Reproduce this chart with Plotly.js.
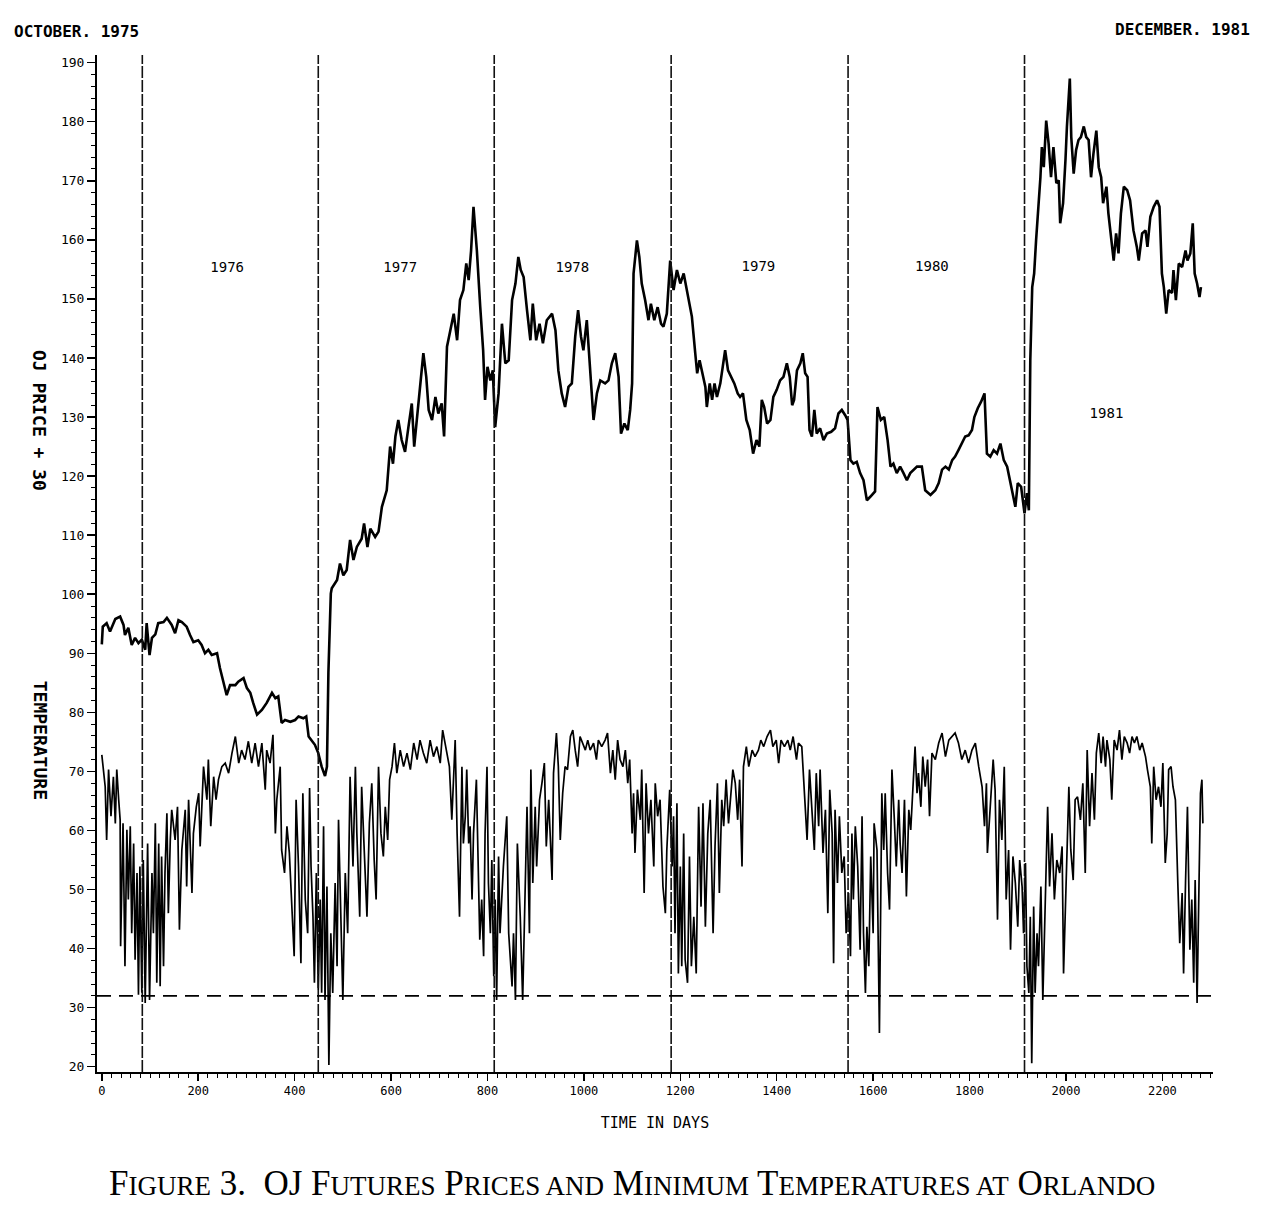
<!DOCTYPE html>
<html><head><meta charset="utf-8">
<script src="https://cdn.plot.ly/plotly-3.0.1.min.js"></script>
<style>html,body{margin:0;padding:0;background:#fff;} #chart{width:1282px;height:1212px;}</style>
</head><body><div id="chart"></div>
<script>
// ---- Data ----
const priceDays = [0,2,10,17,28,38,45,48,55,62,69,76,83,90,93,99,104,111,117,128,135,145,152,159,166,176,183,190,200,207,214,221,228,239,245,252,259,266,277,283,294,301,308,314,322,332,342,353,360,366,373,380,391,401,408,418,424,429,436,442,449,456,463,467,470,475,477,488,494,501,508,515,522,529,539,544,551,557,567,574,581,591,598,604,609,615,622,629,636,643,648,654,660,667,673,678,685,692,698,705,710,716,723,730,737,743,750,756,761,766,771,778,785,791,795,800,806,811,816,823,830,837,844,851,858,864,869,875,882,889,894,901,908,915,923,934,941,947,954,961,968,975,982,988,994,999,1006,1013,1020,1027,1034,1044,1051,1058,1065,1072,1077,1084,1091,1096,1100,1103,1110,1115,1120,1127,1134,1139,1146,1153,1160,1165,1172,1179,1186,1193,1200,1207,1214,1221,1224,1231,1235,1240,1245,1252,1255,1261,1266,1271,1276,1283,1288,1293,1299,1305,1312,1319,1324,1330,1337,1344,1351,1358,1364,1369,1374,1380,1387,1393,1400,1407,1414,1421,1427,1432,1436,1442,1449,1454,1459,1464,1468,1473,1478,1483,1490,1497,1504,1513,1521,1528,1535,1542,1547,1553,1559,1566,1573,1580,1587,1594,1604,1609,1616,1623,1630,1636,1642,1649,1656,1663,1670,1677,1684,1691,1701,1708,1719,1729,1736,1743,1750,1757,1764,1770,1777,1784,1791,1798,1805,1810,1817,1824,1831,1836,1843,1850,1857,1864,1871,1878,1885,1891,1895,1900,1907,1914,1919,1923,1926,1930,1934,1938,1943,1947,1950,1954,1959,1964,1969,1974,1980,1985,1988,1994,1999,2002,2008,2011,2016,2021,2026,2031,2037,2042,2047,2052,2057,2063,2068,2073,2077,2084,2088,2092,2099,2104,2109,2114,2120,2127,2133,2140,2147,2151,2158,2165,2169,2175,2182,2189,2194,2199,2203,2208,2213,2220,2223,2228,2234,2241,2248,2252,2258,2263,2267,2272,2277,2280];
const priceValues = [91.5,94.5,95.1,93.7,95.8,96.2,94.8,93.1,94.3,91.4,92.6,91.7,92.3,90.6,95.1,89.7,92.6,93.2,95.1,95.3,96.0,94.8,93.4,95.6,95.3,94.5,93.1,91.9,92.2,91.4,90.0,90.6,89.7,90.0,87.5,85.2,82.9,84.6,84.6,85.2,85.8,84.1,83.3,81.6,79.6,80.4,81.6,83.3,82.4,82.7,78.2,78.7,78.4,78.7,79.3,79.0,79.3,75.9,75.1,74.5,73.1,70.8,69.2,70.8,86.7,100.1,101.0,102.4,105.2,103.2,104.1,109.2,105.8,108.0,109.4,112.0,108.0,111.1,109.7,110.6,114.8,117.6,125.0,122.1,126.7,129.5,126.1,124.1,128.3,132.3,125.0,130.0,135.7,140.8,136.8,131.2,129.5,133.4,130.6,132.3,126.7,141.9,144.7,147.5,143.0,149.8,151.5,156.0,153.2,158.2,165.6,158.2,148.6,141.3,132.9,138.5,136.2,137.9,128.3,134.0,145.8,139.1,139.6,149.8,152.6,157.1,154.9,153.7,148.1,143.0,149.2,143.0,145.8,142.5,146.4,147.5,144.7,137.9,134.0,131.7,135.1,135.7,143.6,148.1,143.6,141.3,146.4,138.5,129.5,134.0,136.2,135.7,136.2,139.1,140.8,136.8,127.2,128.9,127.8,131.2,135.7,154.3,159.9,157.1,152.6,149.8,146.4,149.2,146.4,148.6,145.8,145.3,147.5,156.5,151.5,154.9,152.6,154.3,151.0,148.1,147.0,140.8,137.4,139.6,137.9,135.1,131.7,135.7,132.9,135.7,133.4,135.7,138.5,141.3,137.9,136.8,135.7,134.0,133.4,134.0,129.5,127.8,123.8,126.1,125.0,132.9,131.7,128.9,129.5,133.4,134.6,136.2,136.8,139.1,136.8,132.0,132.9,137.9,139.1,140.8,137.4,136.8,127.8,126.7,131.2,127.2,128.1,126.1,127.2,127.5,128.1,130.6,131.2,130.3,129.5,122.7,122.1,122.4,120.5,119.3,115.9,116.5,117.4,131.7,129.5,130.0,126.1,121.6,122.1,120.5,121.6,120.5,119.3,120.5,121.1,121.6,121.6,117.6,116.8,117.6,118.8,121.1,121.6,121.1,122.7,123.3,124.4,125.5,126.7,126.9,127.8,130.0,131.5,132.6,134.0,123.8,123.3,124.4,123.8,125.5,122.7,121.6,118.8,116.5,114.8,118.8,118.2,113.7,117.1,114.2,139.6,152.0,154.3,159.9,165.0,170.6,175.7,172.3,180.2,176.3,170.6,175.7,169.6,170.1,162.8,166.2,173.6,179.2,187.3,177.4,171.2,175.2,176.9,177.4,179.2,177.4,176.9,170.6,174.6,178.5,172.3,170.6,166.2,169.0,164.5,161.6,156.5,161.1,157.7,164.5,169.0,168.4,166.7,161.6,158.8,156.5,161.1,161.6,158.8,163.9,165.6,166.7,165.6,154.3,152.0,147.5,151.5,151.0,154.9,149.8,156.0,155.4,158.2,156.5,157.7,162.8,154.3,152.6,150.3,152.0];

const tempDays = [0,7,10,14,19,24,28,31,35,38,39,44,48,52,55,59,62,66,69,73,76,79,83,86,90,95,99,104,107,111,114,118,121,124,128,131,135,138,142,145,152,157,161,166,173,176,180,187,190,196,201,204,211,218,221,226,232,237,242,249,256,263,270,277,284,290,297,304,311,318,325,332,339,342,349,355,360,363,370,373,379,384,389,394,399,403,408,413,417,422,427,431,434,438,441,445,449,453,456,460,463,467,471,475,479,484,488,491,496,500,505,510,515,521,526,529,535,539,544,550,555,560,565,569,574,579,584,588,593,597,602,607,612,619,626,633,640,647,654,660,667,674,681,688,695,702,707,714,721,726,730,733,737,740,742,747,750,754,757,761,764,768,771,777,780,784,788,792,795,799,802,806,809,813,816,819,823,826,833,840,844,
851,854,858,862,868,873,877,882,887,890,894,899,902,908,913,918,922,927,934,937,943,947,951,956,961,966,972,977,982,987,992,998,1003,1008,1013,1020,1026,1030,1037,1044,1049,1055,1060,1065,1070,1075,1081,1086,1091,1095,1100,1103,1106,1111,1117,1120,1125,1129,1134,1139,1145,1148,1153,1158,1164,1169,1172,1178,1183,1186,1189,1193,1196,1200,1203,1207,1210,1215,1219,1223,1228,1233,1238,1243,1247,1252,1257,1262,1268,1272,1277,1281,1286,1290,1295,1300,1304,1309,1314,1319,1323,1328,1331,1337,1342,1349,1355,1362,1367,1373,1380,1387,1392,1399,1404,1409,1416,1423,1428,1434,1441,1445,1452,1459,1463,1468,1473,1478,1482,1487,1490,1496,1501,1506,1510,1515,1518,1521,1526,1530,1535,1540,1544,1549,1553,
1556,1559,1563,1568,1573,1577,1580,1584,1587,1591,1595,1600,1602,1608,1613,1618,1622,1625,1630,1634,1639,1644,1648,1653,1656,1660,1665,1669,1674,1678,1684,1687,1691,1694,1699,1703,1708,1713,1717,1722,1729,1736,1743,1750,1757,1763,1770,1777,1784,1791,1798,1805,1812,1819,1826,1831,1835,1837,1843,1849,1853,1858,1862,1867,1872,1876,1881,1885,1890,1895,1900,1904,1909,1912,1916,1919,1923,1926,1929,1933,1936,1940,1943,1948,1952,1957,1962,1966,1971,1976,1981,1987,1992,1995,2001,2006,2010,2015,2019,2024,2030,2035,2040,2044,2049,2054,2059,2063,2068,2073,2077,2082,2085,2091,2095,2100,2106,2111,2116,2121,2127,2132,2137,2142,2147,2153,2158,2165,2169,2175,2178,2182,2187,2192,2197,2201,2206,2210,2213,2218,2222,2227,2232,2236,2241,2244,2248,2252,2257,2261,2265,2268,2272,2275,2279,2282,2284];
const tempValues = [72.8,67.4,58.4,70.3,62.4,69.1,61.2,70.3,65.2,61.8,40.4,61.2,37,60.1,48.3,60.7,42.6,57.8,38.1,52.8,32.2,53.9,32.5,55,30.8,57.8,31.3,52.8,42.6,61.2,34.2,57.8,33.6,55.6,37,52.8,62.9,46,58.4,63.5,58.4,64,43.2,56.7,63.5,50.5,65.2,49.4,59.5,64,66.3,57.3,70.8,65.2,72,60.7,69.1,65.2,68.6,70.8,71.4,69.7,73.1,75.9,71.4,73.6,72,75.1,71.4,74.8,70.8,74.8,66.9,73.6,71.4,76.2,59.5,65.2,70.8,56.7,52.8,60.7,56.2,48.3,38.7,65.2,53.9,37.5,66.3,48.3,42.6,67.2,53.9,45.4,34.2,52.8,33,48.3,32.5,60.7,31.3,50.5,20.3,42.6,32.5,51.1,37,61.8,47.1,31.3,52.8,42.6,69.1,53.9,70.8,59.5,45.4,67.4,57.3,45.4,61.2,68,55,48.3,70.8,59.5,55.6,64,58.4,68.6,70.8,74.8,69.7,73.6,70.8,73.1,70.3,74.8,72,75.3,73.1,71.4,75.3,72.5,74.2,71.4,77,73.6,70.8,61.8,70.8,75.3,59.5,49.4,45.4,70.8,57.8,62.4,70.3,57.8,60.7,48.3,59.5,68.6,55,41.5,48.3,38.7,59.5,70.8,51.1,42.6,55,35.3,48.3,31.3,55.6,42.6,53.9,62.4,42.6,
33.6,42.6,31.3,57.8,45.4,31.3,48.3,64,42.6,70.3,51.1,64,53.9,65.2,68,71.4,57.3,65.2,51.6,69.7,76.5,70.8,58.4,66.3,70.8,70.3,75.9,77,73.6,70.8,75.9,74.8,73.6,75.3,73.6,74.8,72,75.3,74.2,75.3,76.5,69.7,73.6,68.6,75.3,72,70.8,73.6,68,72,59.5,66.3,56.2,66.9,61.8,70.3,49.4,68,59.5,65.2,53.9,68,62.4,65.2,50.5,46,56.7,66.9,53.9,62.4,42.6,64.6,35.8,53.9,37,59.5,38.1,34.2,55.6,37,45.4,35.8,64,47.1,64.6,43.7,59.5,65.2,42.6,57.3,68,49.4,65.2,60.7,68.6,61.2,65.2,70.3,68,61.8,68.6,53.9,70.8,74.2,70.8,73.6,72.5,73.6,75.3,74.2,75.9,77,74.2,75.3,71.4,75.3,74.2,75.3,73.6,75.9,72,74.8,74.2,65.2,58.4,70.3,62.4,56.7,69.7,60.7,70.3,56.2,63.5,46,66.9,59.5,37.5,63.5,51.1,62.4,52.8,55.6,42.6,49.4,38.7,
59.5,48.3,60.7,53.9,39.8,62.4,42.6,32.5,43.7,37,55.6,42.6,61.2,56.7,25.7,66.3,56.7,66.3,52.8,46.6,70.3,61.8,53.9,65.2,57.8,52.8,65.2,48.8,63.5,60.1,70.8,74.2,66.3,69.7,64,72.5,67.4,72,62.4,73.1,72,74.8,76.5,72.5,75.3,75.9,76.5,74.8,72,73.6,71.4,73.6,74.8,70.8,67.4,60.7,68,56.2,65.2,72,66.9,44.9,65.2,58.4,70.8,48.3,56.7,39.8,55.6,51.1,43.7,55,50.5,42.6,54.5,37,32.5,45.4,20.6,47.1,32.5,42.6,37,50.5,31.3,48.3,64,50.5,59.5,48.3,55,52.8,57.3,35.8,55.6,67.4,56.7,51.6,65.2,65.7,61.8,68,52.8,73.6,60.7,69.7,61.8,73.1,76.5,71.4,75.9,70.8,75.3,72,65.2,75.3,73.6,77,72,75.9,74.8,73.1,75.9,74.8,75.9,73.6,74.8,72.5,70.3,67.4,57.8,70.8,65.2,67.4,64,71.4,54.5,59.5,70.3,70.8,67.4,65.2,51.1,40.9,49.4,35.8,51.1,64,39.8,48.3,34.2,51.6,30.8,47.1,66.3,68.6,61.2];

const yearStartDays = [84, 449, 814, 1181, 1548, 1914];
const yearLabels = ['1976', '1977', '1978', '1979', '1980', '1981'];
const yearLabelDays = [260, 619, 976, 1362, 1722, 2084];
const yearLabelValues = [155.2, 155.2, 155.2, 155.4, 155.4, 130.5];
const freezeLevel = 32;

// ---- Traces ----
const mono = 'DejaVu Sans Mono, Liberation Mono, monospace';
const traces = [
  {x: tempDays, y: tempValues, type: 'scatter', mode: 'lines',
   line: {color: '#000', width: 1.7}, hoverinfo: 'skip'},
  {x: priceDays, y: priceValues, type: 'scatter', mode: 'lines',
   line: {color: '#000', width: 2.6}, hoverinfo: 'skip'},
  {x: yearLabelDays, y: yearLabelValues, text: yearLabels, type: 'scatter', mode: 'text',
   textfont: {family: mono, size: 14, color: '#000'}, textposition: 'middle center', hoverinfo: 'skip'}
];

const shapes = yearStartDays.map(d => ({
  type: 'line', xref: 'x', yref: 'y', x0: d, x1: d, y0: 19.1, y1: 191.3,
  line: {color: '#111', width: 1.6, dash: '12px,2px'}
}));
shapes.push({type: 'line', xref: 'x', yref: 'y', x0: -10, x1: 2305, y0: freezeLevel, y1: freezeLevel,
  line: {color: '#000', width: 1.8, dash: '14px,8px'}});

const sc = "font-size:27px";
const caption = "F<span style='" + sc + "'>IGURE</span> 3.  OJ F<span style='" + sc + "'>UTURES</span> P<span style='" + sc + "'>RICES AND</span> M<span style='" + sc + "'>INIMUM</span> T<span style='" + sc + "'>EMPERATURES AT</span> O<span style='" + sc + "'>RLANDO</span>";

const layout = {
  width: 1282, height: 1212, autosize: false,
  margin: {l: 97, r: 69, t: 55, b: 140, pad: 0},
  paper_bgcolor: '#fff', plot_bgcolor: '#fff', showlegend: false,
  xaxis: {
    range: [-10, 2305], tickmode: 'linear', tick0: 0, dtick: 200,
    showline: true, linecolor: '#000', linewidth: 2, zeroline: false, showgrid: false,
    ticks: 'outside', ticklen: 7, tickwidth: 1.5, tickcolor: '#000',
    tickfont: {family: mono, size: 12, color: '#000'},
    minor: {tick0: 0, dtick: 20, ticks: 'outside', ticklen: 4, tickwidth: 1, tickcolor: '#000', showgrid: false},
    title: {text: 'TIME IN DAYS', font: {family: mono, size: 15, color: '#000'}, standoff: 20}
  },
  yaxis: {
    range: [19.1, 191.3], tickmode: 'linear', tick0: 20, dtick: 10,
    showline: true, linecolor: '#000', linewidth: 2, zeroline: false, showgrid: false,
    ticks: 'outside', ticklen: 8, tickwidth: 1.5, tickcolor: '#000',
    tickfont: {family: mono, size: 13, color: '#000'},
    minor: {tick0: 20, dtick: 2, ticks: 'outside', ticklen: 4, tickwidth: 1, tickcolor: '#000', showgrid: false}
  },
  shapes: shapes,
  annotations: [
    {text: 'OCTOBER. 1975', xref: 'paper', yref: 'paper', x: -0.0762, y: 1.0232, xanchor: 'left', yanchor: 'middle',
     showarrow: false, font: {family: mono, size: 16, color: '#000', weight: 'bold'}},
    {text: 'DECEMBER. 1981', xref: 'paper', yref: 'paper', x: 1.035, y: 1.0254, xanchor: 'right', yanchor: 'middle',
     showarrow: false, font: {family: mono, size: 16, color: '#000', weight: 'bold'}},
    {text: 'OJ PRICE + 30', xref: 'paper', yref: 'paper', x: -0.051, y: 0.641, xanchor: 'center', yanchor: 'middle',
     textangle: 90, showarrow: false, font: {family: mono, size: 18, color: '#000', weight: 'bold'}},
    {text: 'TEMPERATURE', xref: 'paper', yref: 'paper', x: -0.051, y: 0.3266, xanchor: 'center', yanchor: 'middle',
     textangle: 90, showarrow: false, font: {family: mono, size: 18, color: '#000', weight: 'bold'}},
    {text: caption, xref: 'paper', yref: 'paper', x: 0.479, y: -0.1098, xanchor: 'center', yanchor: 'middle',
     showarrow: false, font: {family: 'Liberation Serif, Times New Roman, serif', size: 35, color: '#000'}}
  ]
};

Plotly.newPlot('chart', traces, layout, {staticPlot: true, displayModeBar: false});
</script>
</body></html>
